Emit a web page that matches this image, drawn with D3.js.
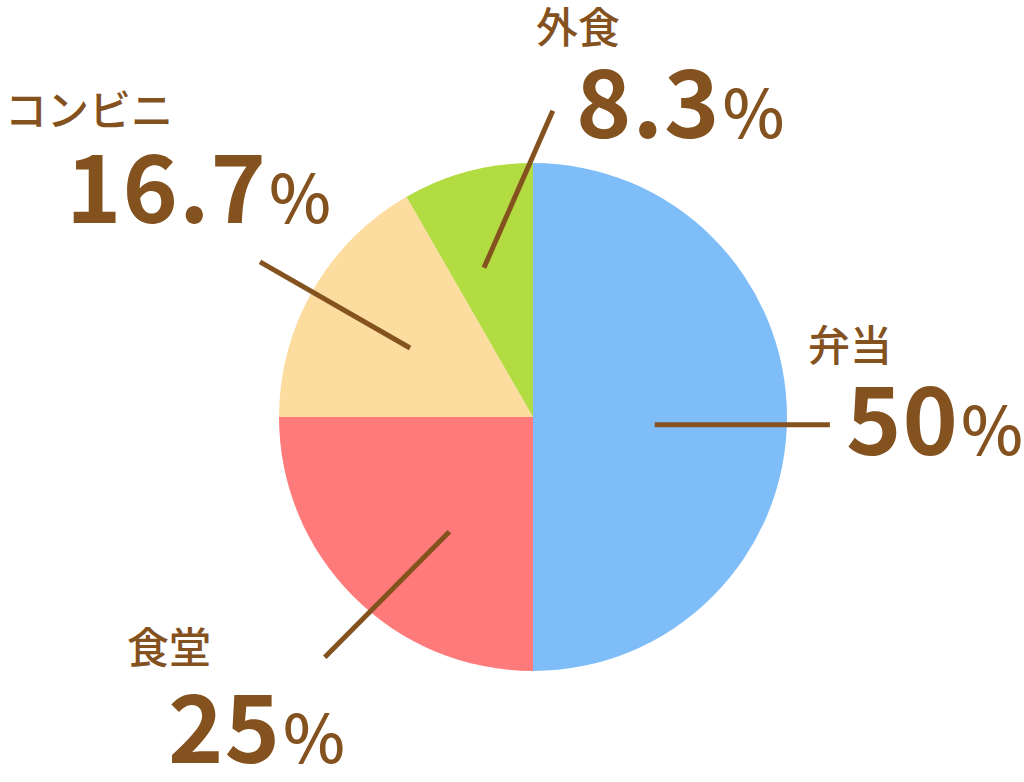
<!DOCTYPE html>
<html>
<head>
<meta charset="utf-8">
<script src="https://cdn.jsdelivr.net/npm/d3@7"></script>
<style>
  body { margin: 0; background: #fff; }
  text { font-family: "Noto Sans CJK JP", "Noto Sans", sans-serif; fill: #84521f; }
</style>
</head>
<body>
<div id="chart"></div>
<script>
// data
var categories = ["弁当", "食堂", "コンビニ", "外食"];
var values = [50, 25, 16.7, 8.3];
var valueLabels = ["50", "25", "16.7", "8.3"];

var colors = ["#7fbdf9", "#ff7b7b", "#fcdc9f", "#b3db42"];

var svgWidth = 1024;
var svgHeight = 782;
var cx = 533, cy = 417, radius = 254;

// label layout: leader line ends (angle deg clockwise from 12 o'clock, radius) and text anchors
var layout = [
  { line: [[93.7, 122], [91.5, 297]], name: [808, 365], num: [846, 455] },
  { line: [[216.1, 142], [220.9, 318]], name: [127, 667], num: [168, 763] },
  { line: [[-60.7, 141], [-60.4, 314]], name: [5, 130], num: [66, 223] },
  { line: [[-18.2, 157], [3.7, 307]], name: [536, 47], num: [576, 138] }
];

var svg = d3.select("#chart")
  .append("svg")
  .attr("width", svgWidth)
  .attr("height", svgHeight);

var pieGroup = svg.append("g")
  .attr("transform", `translate(${cx}, ${cy})`);

var pie = d3.pie().sort(null).value(d => d);
var arc = d3.arc().innerRadius(0).outerRadius(radius);

pieGroup.selectAll("path")
  .data(pie(values))
  .enter()
  .append("path")
  .attr("d", arc)
  .attr("fill", (d, i) => colors[i]);

function polar(p) {
  var a = p[0] * Math.PI / 180;
  return [Math.sin(a) * p[1], -Math.cos(a) * p[1]];
}

// leader lines
pieGroup.selectAll("line")
  .data(layout)
  .enter()
  .append("line")
  .attr("x1", d => polar(d.line[0])[0])
  .attr("y1", d => polar(d.line[0])[1])
  .attr("x2", d => polar(d.line[1])[0])
  .attr("y2", d => polar(d.line[1])[1])
  .attr("stroke", "#84521f")
  .attr("stroke-width", 5);

// category names
svg.selectAll(".name")
  .data(categories)
  .enter()
  .append("text")
  .attr("class", "name")
  .attr("x", (d, i) => layout[i].name[0])
  .attr("y", (d, i) => layout[i].name[1] - 4)
  .attr("font-size", "42px")
  .attr("font-weight", 500)
  .text(d => d);

// percentages
var num = svg.selectAll(".num")
  .data(valueLabels)
  .enter()
  .append("text")
  .attr("class", "num")
  .attr("x", (d, i) => layout[i].num[0])
  .attr("y", (d, i) => layout[i].num[1])
  .attr("font-size", "94px")
  .attr("font-weight", 700);

num.append("tspan").attr("letter-spacing", "1px").text(d => d);
num.append("tspan")
  .attr("font-size", "66px")
  .attr("font-weight", 500)
  .attr("dx", 2)
  .text("%");
</script>
</body>
</html>
